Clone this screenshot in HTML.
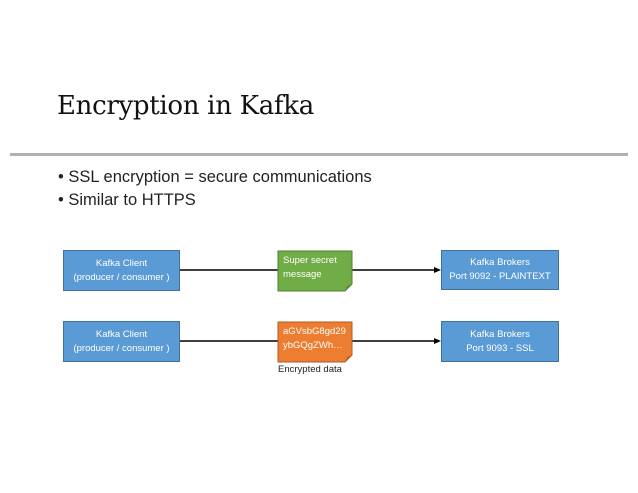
<!DOCTYPE html>
<html><head><style>
body{margin:0;width:638px;height:493px;background:#fff;position:relative;overflow:hidden;font-family:"Liberation Sans",sans-serif}
.t{position:absolute;left:57px;top:91px;font-family:"DejaVu Serif","Liberation Serif",serif;font-size:26px;color:#111;letter-spacing:-0.3px}
.hr{position:absolute;left:10px;top:153px;width:618px;height:3px;background:#b0b0b0}
.b{position:absolute;left:58px;font-size:16.5px;color:#222}
.box{position:absolute;background:#5b9bd5;border:1px solid #41719c;color:#fff;font-size:9.5px;text-align:center;display:flex;flex-direction:column;justify-content:center;line-height:14px;box-sizing:border-box}
.note{position:absolute;color:#fff;font-size:9.5px;line-height:14px;padding:3px 0 0 5px;box-sizing:border-box}
</style></head><body>
<div class="t">Encryption in Kafka</div>
<div class="hr"></div>
<div class="b" style="top:168px">• SSL encryption = secure communications</div>
<div class="b" style="top:191px">• Similar to HTTPS</div>
<svg style="position:absolute;left:0;top:0" width="638" height="493">
<line x1="179" y1="270" x2="278" y2="270" stroke="#000" stroke-width="1.5"/>
<line x1="352" y1="270" x2="436" y2="270" stroke="#000" stroke-width="1.5"/>
<polygon points="441,270 434,267 434,273" fill="#000"/>
<line x1="179" y1="341" x2="278" y2="341" stroke="#000" stroke-width="1.5"/>
<line x1="352" y1="341" x2="436" y2="341" stroke="#000" stroke-width="1.5"/>
<polygon points="441,341 434,338 434,344" fill="#000"/>
<polygon points="278,251 352,251 352,284 345,291 278,291" fill="#70ad47" stroke="#507e32"/>
<polygon points="345,291 347,286 352,284" fill="#5a8a38"/>
<polygon points="278,322 352,322 352,355 345,362 278,362" fill="#ed7d31" stroke="#ae5a21"/>
<polygon points="345,362 347,357 352,355" fill="#c0601f"/>
</svg>
<div class="note" style="left:278px;top:251px">Super secret<br>message</div>
<div class="note" style="left:278px;top:322px">aGVsbG8gd29<br>ybGQgZWh…</div>
<div style="position:absolute;left:278px;top:364px;font-size:9.5px;color:#222">Encrypted data</div>
<div class="box" style="left:63px;top:250px;width:117px;height:41px">Kafka Client<br>(producer / consumer )</div>
<div class="box" style="left:63px;top:321px;width:117px;height:41px">Kafka Client<br>(producer / consumer )</div>
<div class="box" style="left:441px;top:250px;width:118px;height:40px">Kafka Brokers<br>Port 9092 - PLAINTEXT</div>
<div class="box" style="left:441px;top:321px;width:118px;height:41px">Kafka Brokers<br>Port 9093 - SSL</div>
</body></html>
